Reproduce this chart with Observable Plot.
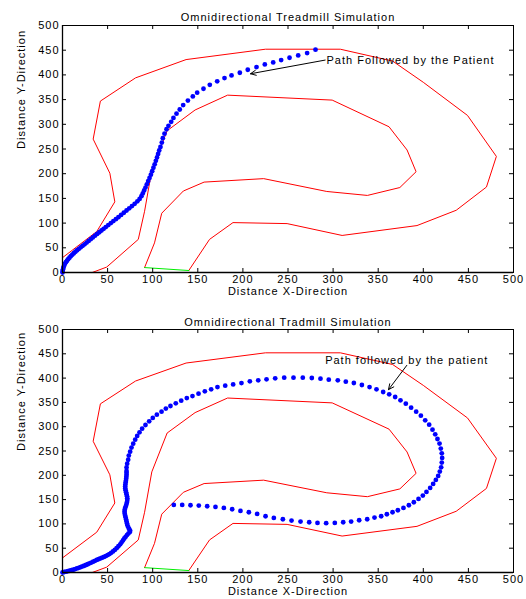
<!DOCTYPE html>
<html><head><meta charset="utf-8">
<script src="https://cdn.jsdelivr.net/npm/d3@7"></script>
<script src="https://cdn.jsdelivr.net/npm/@observablehq/plot@0.6"></script>
<style>body{margin:0;background:#fff} #c{width:526px}</style>
</head><body><div id="c"></div>
<script>
const xTicks = [0,50,100,150,200,250,300,350,400,450,500];
const yTicks = [0,50,100,150,200,250,300,350,400,450,500];
const titles = ["Omnidirectional Treadmill Simulation", "Omnidirectional Tradmill Simulation"];
const xLabel = "Distance X-Direction";
const yLabel = "Distance Y-Direction";
const notes = ["Path Followed by the Patient", "Path followed by the patient"];

const outerBoundary = [[0,30],[38,83],[58,143],[52.5,201],[34,270],[42,347],[81,394],[137,431],[225,452],[308,452],[366,428],[400,385],[449,318],[481,235],[470,173],[436.5,126],[393,95],[310,75],[249,99],[189,101],[163,67],[140,4]];
const innerBoundary = [[33,0],[49,11],[84,67],[91,124],[99,207],[116,287],[147,329],[183,359],[299,349],[362,295],[382,248],[392,204],[374,172],[338,156],[293,164],[223,190],[157,183],[134,165],[110,120],[102,60],[91,10]];
const startLine = [[91,10],[140,4]];

const pathTop = [[0,0],[0.2,3],[0.5,6],[0.9,9],[1.4,12],[2,15],[2.8,18],[3.8,21],[5,24],[6.3,27],[7.7,30],[9.2,33],[10.8,36],[12.5,39],[14.3,42],[16.2,45],[18.2,48],[20.2,51],[22.3,54],[24.5,57],[26.8,60.5],[29,64],[31.3,67.5],[33.6,71],[36,74.5],[38.4,78],[40.8,81.5],[43.2,85],[45.6,88.5],[48,92],[50.8,96],[53.6,100],[56.4,104],[59.2,108],[62,112],[65,116.5],[68,121],[71,125.5],[74,130],[77,134.5],[80,139],[83,144],[85.5,149],[87.5,154.5],[89,160],[90.5,166],[92,172],[93.5,178.5],[95,185],[96.5,191.5],[98,198],[99.4,205],[100.8,212],[102.2,219],[103.5,226],[104.8,233],[106,240],[107.2,247],[108.6,254],[110.1,263],[111.2,272],[113.1,281],[115.3,290],[117.5,297],[120.5,305],[123,313],[126.4,321.5],[130,330],[133.8,339],[139,348],[144.5,356.5],[149.3,364],[156.3,372],[163.3,380],[171.5,387],[179.6,393.6],[187.4,399],[196.6,404.4],[205.4,410.4],[215.1,415.8],[224.3,421.2],[233.6,425.3],[242.4,430],[251.7,434.7],[261.3,439.4],[271.2,444.2],[280.5,451]];

const pathBottom = [[0,0],[2,1],[4,1.8],[6,2.7],[8,3.6],[10,4.6],[12,5.7],[14,7],[16,8.3],[18,9.6],[20,11],[22,12.4],[24,13.9],[26,15.4],[28,17],[30,18.8],[32,20.5],[34,22.3],[36,24],[38,25.8],[40,27.4],[42,29],[44,30.5],[46,32],[48,33.8],[50,35.8],[52,38],[54,40.5],[56,43.3],[58,46.5],[60,50],[62,54],[64,58],[65.5,62],[67,66],[68.5,70],[70,73.5],[71.5,77],[73,80],[74.5,83],[75,86],[74,89],[73,93],[72,97],[71.5,101],[71,105],[70.5,109],[70,113],[69.5,117],[69,121],[68.8,125],[69,129],[69.5,133],[70.3,137],[71,141],[71.5,145],[71.8,149],[71.8,153],[71.5,157],[71,161],[70.5,165],[70,169],[69.6,173],[69.5,177],[69.7,181],[70,185],[70.3,189],[70.6,193],[70.8,197],[71,201],[71,205],[71,209],
[71,216],[71.7,224],[72.8,232],[73.5,240.5],[75,248.7],[76.5,257],[78.4,265],[80.6,273.4],[82.8,281],[85.4,288.4],[88.3,296],[92,303.5],[96.1,311],[100.1,318],[104.6,324.8],[109.8,331],[114.6,337.2],[119.7,342.6],[125.6,348],[131.6,353.6],[137.8,359],[144.1,363],[150.8,368],[157.8,372.7],[164.8,377],[171.8,381.6],[180.4,384.4],[189.2,387],[198.4,389.8],[207.7,393.3],[217,395.4],[226.2,397.4],[235.8,399.5],[245.8,400.9],[256.1,400.9],[266.4,400.9],[276.4,400.2],[286,398.8],[295.2,396.8],
[305.2,395.4],[314.1,392.6],[323,389.9],[331.9,385.8],[340.4,381.6],[348.1,376.9],[355.5,371.4],[362.2,366.6],[368.8,361.1],[374.7,354.2],[380.6,347.4],[386.5,339.2],[392.1,330.9],[397.3,322.7],[402.1,313.1],[406.5,304.2],[410.2,293.9],[413.2,284.3],[415.7,274.7],[418,265.2],[419.4,254.9],[420.5,245.3],[420.9,235.7],[420.5,226.1],[419.8,216.5],[418.3,207.6],[416.5,198.7],[413.9,190.4],[410.9,182.2],[407.6,174],[403.5,165.8],[399.5,158.2],[394.7,151.4],[389.5,144.5],[384,138.4],[378,132.9],[371.8,128.1],[365.9,124],[359.6,119.9],[353.3,115.7],[345.9,113],[337.8,109.6],[328.9,107.5],[320,104.8],[311.2,103.4],[301.9,102],[292.3,101.4],[282.7,102],[273.5,103.4],
[263.9,104.8],[253.9,106.8],[244.3,109.6],[234.3,112.3],[225.1,115.7],[215.8,120.5],[206.6,124],[197.3,126.7],[188.1,130.1],[178.9,132.9],[169.6,134.9],[160.4,136.3],[151.1,137.7],[141.9,138.4],[132.7,139],[123.4,139]];

const notePos = [[292.7,428.6],[291.2,436.5]];
const arrows = [[291.2,430,208.4,402.3],[381.7,426.2,361.4,376.2]];

function panel(i, path, height, mt, mb, titleDy) {
  const fh = height - mt - mb;
  const fw = 526 - 62 - 13;
  const X = d => d[0], Y = d => d[1];
  return Plot.plot({
    width: 526, height, marginLeft: 62, marginRight: 13, marginTop: mt, marginBottom: mb,
    x: {domain: [0, 500]}, y: {domain: [0, 500]},
    style: {fontFamily: "'Liberation Sans', Arial, sans-serif", fontSize: "11px", letterSpacing: "1px", background: "white", color: "black", overflow: "visible"},
    marks: [
      Plot.line(outerBoundary, {x: X, y: Y, stroke: "#ff0000", strokeWidth: 1}),
      Plot.line(innerBoundary, {x: X, y: Y, stroke: "#ff0000", strokeWidth: 1}),
      Plot.line(startLine, {x: X, y: Y, stroke: "#00ee00", strokeWidth: 1}),
      Plot.dot(path, {x: X, y: Y, r: 2.4, fill: "#0000ff"}),
      Plot.arrow([arrows[i]], {x1: d => d[0], y1: d => d[1], x2: d => d[2], y2: d => d[3], stroke: "black", strokeWidth: 1, headLength: 9, headAngle: 50}),
      Plot.text([notes[i]], {x: () => notePos[i][0], y: () => notePos[i][1], text: d => d, textAnchor: "start", fill: "black"}),
      Plot.frame({stroke: "black", strokeWidth: 1}),
      Plot.ruleX([0], {stroke: "black", strokeWidth: 1.3}),
      Plot.ruleY([0], {stroke: "black", strokeWidth: 1.3}),
      Plot.tickX(xTicks, {x: d => d, insetTop: fh - 4, stroke: "black"}),
      Plot.tickX(xTicks, {x: d => d, insetBottom: fh - 4, stroke: "black"}),
      Plot.tickY(yTicks, {y: d => d, insetRight: fw - 4, stroke: "black"}),
      Plot.tickY(yTicks, {y: d => d, insetLeft: fw - 4, stroke: "black"}),
      Plot.axisX(xTicks, {tickSize: 0, tickPadding: 3, label: null}),
      Plot.axisY(yTicks, {tickSize: 0, tickPadding: 3, label: null}),
      Plot.text([titles[i]], {frameAnchor: "top", dy: titleDy, text: d => d, fill: "black"}),
      Plot.text([xLabel], {frameAnchor: "bottom", dy: 22.5, text: d => d, fill: "black"}),
      Plot.text([yLabel], {frameAnchor: "left", dx: -41, rotate: -90, text: d => d, fill: "black"})
    ]
  });
}

const c = document.getElementById("c");
c.appendChild(panel(0, pathTop, 300, 25, 28, -12));
c.appendChild(panel(1, pathBottom, 299, 29, 27, -11));
</script>
</body></html>
